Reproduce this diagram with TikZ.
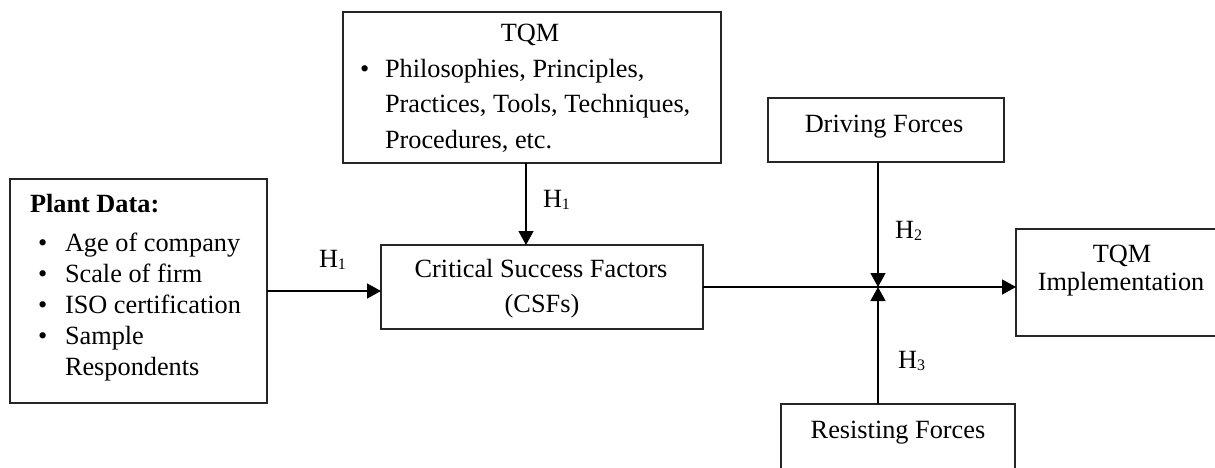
\documentclass[tikz,border=0pt]{standalone}
\usepackage{fontspec}
\setmainfont{Liberation Serif}
\usetikzlibrary{arrows.meta}
\newcommand{\hsub}[1]{H\raisebox{-0.22ex}{\fontsize{16pt}{16pt}\selectfont #1}}
\tikzset{
  box/.style={draw=black!85, line width=1.3pt, inner sep=0pt, outer sep=0pt, rectangle},
  txt/.style={inner sep=0pt, outer sep=0pt, font=\fontsize{26.3pt}{31pt}\selectfont},
  conn/.style={line width=1.3pt, black},
  arr/.style={conn, -{Triangle[length=14pt,width=15pt]}}
}
\begin{document}
\begin{tikzpicture}[x=1pt,y=-1pt]
\useasboundingbox (0,0) rectangle (1215,468);
\fill[white] (0,0) rectangle (1215,468);
% boxes
\node[box, minimum width=378pt, minimum height=151pt] (tqm) at (532,87.5) {};
\node[box, minimum width=257pt, minimum height=224pt] (plant) at (138.5,291) {};
\node[box, minimum width=322pt, minimum height=84pt] (csf) at (542,287) {};
\node[box, minimum width=236pt, minimum height=64pt] (drive) at (886,130) {};
\node[box, minimum width=206pt, minimum height=107pt] (impl) at (1119,282.5) {};
\node[box, minimum width=234pt, minimum height=86pt] (resist) at (898,447) {};
% TQM text
\node[txt, anchor=base] (tqmtitle) at (530,42) {TQM};
\node[txt, anchor=base west] (tqmb) at (360,78) {•};
\node[txt, anchor=base west] (tqm1) at (385,78) {Philosophies, Principles,};
\node[txt, anchor=base west] (tqm2) at (385,113) {Practices, Tools, Techniques,};
\node[txt, anchor=base west] (tqm3) at (385,148) {Procedures, etc.};
% Plant text
\node[txt, anchor=base west, font=\fontsize{26.3pt}{31pt}\selectfont\bfseries] (ptitle) at (30,212) {Plant Data:};
\node[txt, anchor=base west] (pb1) at (38,251) {•};
\node[txt, anchor=base west] (pb2) at (38,282) {•};
\node[txt, anchor=base west] (pb3) at (38,313) {•};
\node[txt, anchor=base west] (pb4) at (38,344) {•};
\node[txt, anchor=base west] (p1) at (65,251) {Age of company};
\node[txt, anchor=base west] (p2) at (65,282) {Scale of firm};
\node[txt, anchor=base west] (p3) at (65,313) {ISO certification};
\node[txt, anchor=base west] (p4) at (65,344) {Sample};
\node[txt, anchor=base west] (p5) at (65,375) {Respondents};
% CSF text
\node[txt, anchor=base] (csf1) at (541,277) {Critical Success Factors};
\node[txt, anchor=base] (csf2) at (542,312) {(CSFs)};
% other texts
\node[txt, anchor=base] (drivet) at (884,132) {Driving Forces};
\node[txt, anchor=base] (implt1) at (1122,262) {TQM};
\node[txt, anchor=base] (implt2) at (1121,290) {Implementation};
\node[txt, anchor=base] (resistt) at (898,438) {Resisting Forces};
% labels
\node[txt, anchor=base west] (h1a) at (319,267) {\hsub{1}};
\node[txt, anchor=base west] (h1b) at (543,207) {\hsub{1}};
\node[txt, anchor=base west] (h2) at (895,238) {\hsub{2}};
\node[txt, anchor=base west] (h3) at (898,368) {\hsub{3}};
% connectors
\coordinate (jn) at (878,287);
\draw[arr] ([xshift=-6pt]tqm.south) -- ([xshift=-6pt]tqm.south |- csf.north);
\draw[arr] (plant.east) -- (plant.east -| csf.west);
\draw[arr] (csf.east) -- (csf.east -| impl.west);
\draw[arr] (drive.south -| jn) -- (jn);
\draw[arr] (resist.north -| jn) -- (jn);
\end{tikzpicture}
\end{document}
